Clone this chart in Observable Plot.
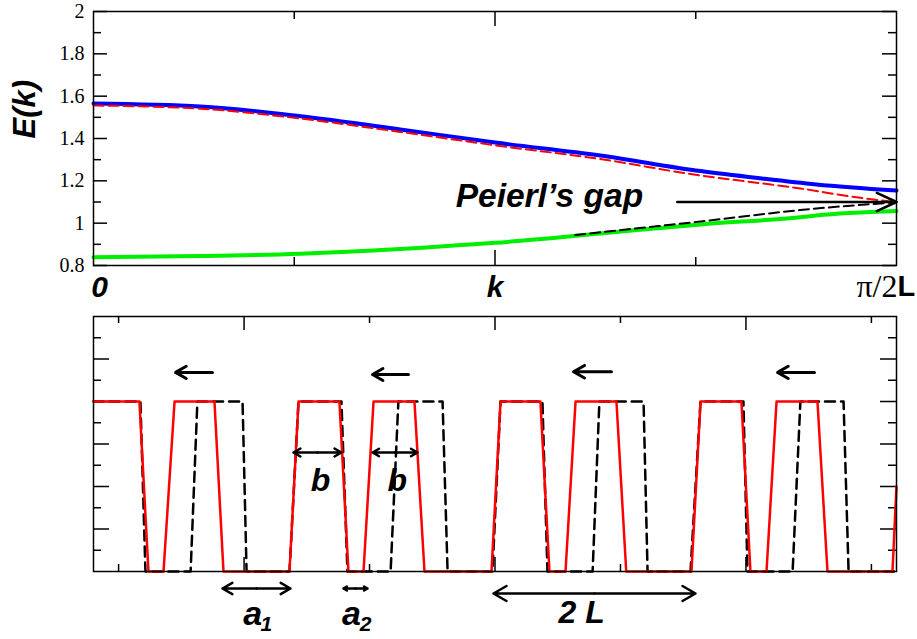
<!DOCTYPE html>
<html>
<head>
<meta charset="utf-8">
<script src="https://cdn.jsdelivr.net/npm/d3@7"></script>
<script src="https://cdn.jsdelivr.net/npm/@observablehq/plot@0.6"></script>
<style>
  body { margin: 0; background: white; }
  #wrap { position: relative; width: 917px; height: 639px; background: white; }
  #wrap svg { position: absolute; left: 0; }
</style>
</head>
<body>
<div id="wrap"></div>
<script>
// ---------- top panel: E(k) bands ----------
const kBlue = [0, 0.133, 0.258, 0.382, 0.5, 0.631, 0.756, 0.83, 0.9, 1];
const eBlue = [1.565, 1.551, 1.505, 1.443, 1.381, 1.320, 1.246, 1.212, 1.183, 1.154];
const kRed = [0, 0.133, 0.258, 0.382, 0.5, 0.631, 0.756, 0.83, 0.88, 0.943, 1];
const eRed = [1.556, 1.541, 1.494, 1.431, 1.368, 1.303, 1.225, 1.189, 1.164, 1.126, 1.099];
const kGreen = [0, 0.133, 0.258, 0.382, 0.5, 0.631, 0.756, 0.88, 0.9, 1];
const eGreen = [0.839, 0.845, 0.856, 0.878, 0.907, 0.951, 0.994, 1.028, 1.036, 1.057];
const kBlack = [0.6, 0.7, 0.756, 0.88, 1];
const eBlack = [0.944, 0.985, 1.008, 1.062, 1.099];
const gapArrowK1 = [0.727];
const gapArrowK2 = [1];
const gapArrowE = [1.10];
const topYMajor = [0.8, 1.0, 1.2, 1.4, 1.6, 1.8, 2.0];
const topYMinor = [0.9, 1.1, 1.3, 1.5, 1.7, 1.9];
const topYLabels = ["0.8", "1", "1.2", "1.4", "1.6", "1.8", "2"];
const topXMajor = [0.5];
const topXMinor = [0.25, 0.75];

// ---------- bottom panel: potential profiles ----------
const xRed = [4.00, 5.83, 6.19, 6.79, 7.23, 8.82, 9.18, 11.81, 12.17, 13.80, 14.16, 14.76, 15.16, 16.79, 17.19, 19.86, 20.22, 21.81, 22.17, 22.81, 23.21, 24.84, 25.23, 27.83, 28.19, 29.82, 30.18, 30.82, 31.22, 32.85, 33.25, 35.84, 36.0];
const vRed = [0.8, 0.8, 0, 0, 0.8, 0.8, 0, 0, 0.8, 0.8, 0, 0, 0.8, 0.8, 0, 0, 0.8, 0.8, 0, 0, 0.8, 0.8, 0, 0, 0.8, 0.8, 0, 0, 0.8, 0.8, 0, 0, 0.4];
const xBlack = [4.00, 5.87, 6.07, 7.87, 8.14, 9.94, 10.10, 11.81, 12.17, 13.88, 14.12, 15.84, 16.15, 17.91, 18.11, 19.90, 20.22, 21.89, 22.09, 23.89, 24.16, 25.92, 26.08, 27.79, 28.19, 29.90, 30.06, 31.86, 32.17, 33.89, 34.09, 36.0];
const vBlack = [0.8, 0.8, 0, 0, 0.8, 0.8, 0, 0, 0.8, 0.8, 0, 0, 0.8, 0.8, 0, 0, 0.8, 0.8, 0, 0, 0.8, 0.8, 0, 0, 0.8, 0.8, 0, 0, 0.8, 0.8, 0, 0];
const shiftX1 = [8.74, 16.55, 24.64, 32.73];
const shiftX2 = [7.27, 15.12, 23.13, 31.26];
const shiftY = [0.937, 0.927, 0.94, 0.937];
const dimNames = ["b", "b", "a1", "a2", "2L"];
const dimX1 = [11.97, 15.12, 9.14, 13.96, 19.94];
const dimX2 = [13.88, 16.91, 11.85, 14.92, 27.99];
const dimY = [0.56, 0.56, -0.08, -0.08, -0.1035];
const botXMajor = [10, 20, 30];
const botXMinor = [5, 15, 25, 35];
const botYMajor = [0.2, 0.4, 0.6, 0.8, 1.0];
const botYMinor = [0.1, 0.3, 0.5, 0.7, 0.9, 1.1];

const W = 917, ML = 93, MR = 21;
const FW = W - ML - MR;
const sans = "Liberation Sans, Arial, sans-serif";
const serif = "Liberation Serif, Times New Roman, serif";

const zip = (xs, ys) => xs.map((x, i) => ({x, y: ys[i]}));

// ---------- top plot ----------
const TH = 305, TMT = 11, TMB = 40;
const TFH = TH - TMT - TMB;
const bi = {fontFamily: sans, fontWeight: "bold", fontStyle: "italic", fill: "black", lineAnchor: "middle"};
const topPlot = Plot.plot({
  width: W, height: TH,
  marginLeft: ML, marginRight: MR, marginTop: TMT, marginBottom: TMB,
  style: {fontFamily: serif, fontSize: "20px", color: "black", background: "white"},
  x: {domain: [0, 1], axis: null},
  y: {domain: [0.8, 2], axis: null},
  marks: [
    Plot.text(topYMajor, {y: d => d, text: (d, i) => topYLabels[i], frameAnchor: "left", dx: -9,
      textAnchor: "end", lineAnchor: "middle", fontFamily: serif, fontSize: 20, fill: "black"}),
    Plot.tickY(topYMajor, {y: d => d, insetRight: FW - 14, stroke: "black", strokeWidth: 1.5}),
    Plot.tickY(topYMinor, {y: d => d, insetRight: FW - 8, stroke: "black", strokeWidth: 1.5}),
    Plot.tickY(topYMajor, {y: d => d, insetLeft: FW - 14, stroke: "black", strokeWidth: 1.5}),
    Plot.tickY(topYMinor, {y: d => d, insetLeft: FW - 8, stroke: "black", strokeWidth: 1.5}),
    Plot.tickX(topXMajor, {x: d => d, insetTop: TFH - 15, stroke: "black", strokeWidth: 1.5}),
    Plot.tickX(topXMinor, {x: d => d, insetTop: TFH - 8, stroke: "black", strokeWidth: 1.5}),
    Plot.tickX(topXMajor, {x: d => d, insetBottom: TFH - 15, stroke: "black", strokeWidth: 1.5}),
    Plot.tickX(topXMinor, {x: d => d, insetBottom: TFH - 8, stroke: "black", strokeWidth: 1.5}),
    Plot.line(zip(kBlue, eBlue), {x: "x", y: "y", stroke: "#0000ff", strokeWidth: 4, curve: "monotone-x"}),
    Plot.line(zip(kRed, eRed), {x: "x", y: "y", stroke: "#ff0000", strokeWidth: 2, strokeDasharray: "10,5", curve: "monotone-x"}),
    Plot.line(zip(kGreen, eGreen), {x: "x", y: "y", stroke: "#00ee00", strokeWidth: 4, curve: "monotone-x"}),
    Plot.line(zip(kBlack, eBlack), {x: "x", y: "y", stroke: "black", strokeWidth: 2, strokeDasharray: "10,5", curve: "monotone-x"}),
    Plot.arrow(gapArrowK1.map((k, i) => ({k1: k, k2: gapArrowK2[i], e: gapArrowE[i]})),
      {x1: "k1", x2: "k2", y1: "e", y2: "e", stroke: "black", strokeWidth: 2.5, headLength: 13, headAngle: 50}),
    Plot.text(["Peierl\u2019s gap"], {x: 0.451, y: 1.126, textAnchor: "start", ...bi, fontSize: 33.5}),
    Plot.text(["E(k)"], {frameAnchor: "left", dx: -68, rotate: -90, ...bi, fontSize: 31}),
    Plot.text(["0"], {x: 0, frameAnchor: "bottom", dx: 6, dy: 22, ...bi, fontSize: 30}),
    Plot.text(["k"], {x: 0.5, frameAnchor: "bottom", dy: 22, ...bi, fontSize: 30}),
    Plot.text(["\u03c0/2"], {x: 1, frameAnchor: "bottom", dx: 1, dy: 21, textAnchor: "end", lineAnchor: "middle",
      fontFamily: serif, fontSize: 32, fill: "black"}),
    Plot.text(["L"], {x: 1, frameAnchor: "bottom", dx: 1, dy: 21, textAnchor: "start", lineAnchor: "middle",
      fontFamily: sans, fontWeight: "bold", fontSize: 29, fill: "black"}),
    Plot.frame({stroke: "black", strokeWidth: 1.5})
  ]
});

// ---------- bottom plot ----------
const BH = 334, BMT = 11, BMB = 68;
const BFH = BH - BMT - BMB;
const dimData = dimNames.flatMap((n, i) => {
  const m = (dimX1[i] + dimX2[i]) / 2;
  return [{a: m, b: dimX1[i], y: dimY[i]}, {a: m, b: dimX2[i], y: dimY[i]}];
});
const botPlot = Plot.plot({
  width: W, height: BH,
  marginLeft: ML, marginRight: MR, marginTop: BMT, marginBottom: BMB,
  style: {fontFamily: sans, fontSize: "20px", color: "black", background: "transparent", overflow: "visible"},
  x: {domain: [4, 36], axis: null},
  y: {domain: [0, 1.2], axis: null},
  marks: [
    Plot.tickY(botYMajor, {y: d => d, insetRight: FW - 16, stroke: "black", strokeWidth: 1.5}),
    Plot.tickY(botYMinor, {y: d => d, insetRight: FW - 8, stroke: "black", strokeWidth: 1.5}),
    Plot.tickY(botYMajor, {y: d => d, insetLeft: FW - 16, stroke: "black", strokeWidth: 1.5}),
    Plot.tickY(botYMinor, {y: d => d, insetLeft: FW - 8, stroke: "black", strokeWidth: 1.5}),
    Plot.tickX(botXMajor, {x: d => d, insetTop: BFH - 14, stroke: "black", strokeWidth: 1.5}),
    Plot.tickX(botXMinor, {x: d => d, insetTop: BFH - 7, stroke: "black", strokeWidth: 1.5}),
    Plot.tickX(botXMajor, {x: d => d, insetBottom: BFH - 14, stroke: "black", strokeWidth: 1.5}),
    Plot.tickX(botXMinor, {x: d => d, insetBottom: BFH - 7, stroke: "black", strokeWidth: 1.5}),
    Plot.line(zip(xBlack, vBlack), {x: "x", y: "y", stroke: "black", strokeWidth: 2.5, strokeDasharray: "10,6"}),
    Plot.line(zip(xRed, vRed), {x: "x", y: "y", stroke: "#ff0000", strokeWidth: 2.5}),
    Plot.arrow(shiftX1.map((x, i) => ({x1: x, x2: shiftX2[i], y: shiftY[i]})),
      {x1: "x1", x2: "x2", y1: "y", y2: "y", stroke: "black", strokeWidth: 3, headLength: 10, headAngle: 60}),
    Plot.arrow(dimData, {x1: "a", x2: "b", y1: "y", y2: "y", stroke: "black", strokeWidth: 2.5, headLength: 9, headAngle: 60}),
    Plot.text(["b", "b"], {x: [13.05, 16.11], y: [0.428, 0.428], ...bi, fontSize: 32}),
    Plot.text(["a", "a"], {x: [10.34, 14.28], y: [-0.2, -0.2], ...bi, fontSize: 34}),
    Plot.text(["1", "2"], {x: [10.89, 14.84], y: [-0.25, -0.25], ...bi, fontSize: 21}),
    Plot.text(["2 L"], {x: 23.45, y: -0.193, ...bi, fontSize: 32}),
    Plot.frame({stroke: "black", strokeWidth: 1.5})
  ]
});

const wrap = document.getElementById("wrap");
topPlot.style.top = "0px";
botPlot.style.top = "305px";
wrap.appendChild(topPlot);
wrap.appendChild(botPlot);
</script>
</body>
</html>
